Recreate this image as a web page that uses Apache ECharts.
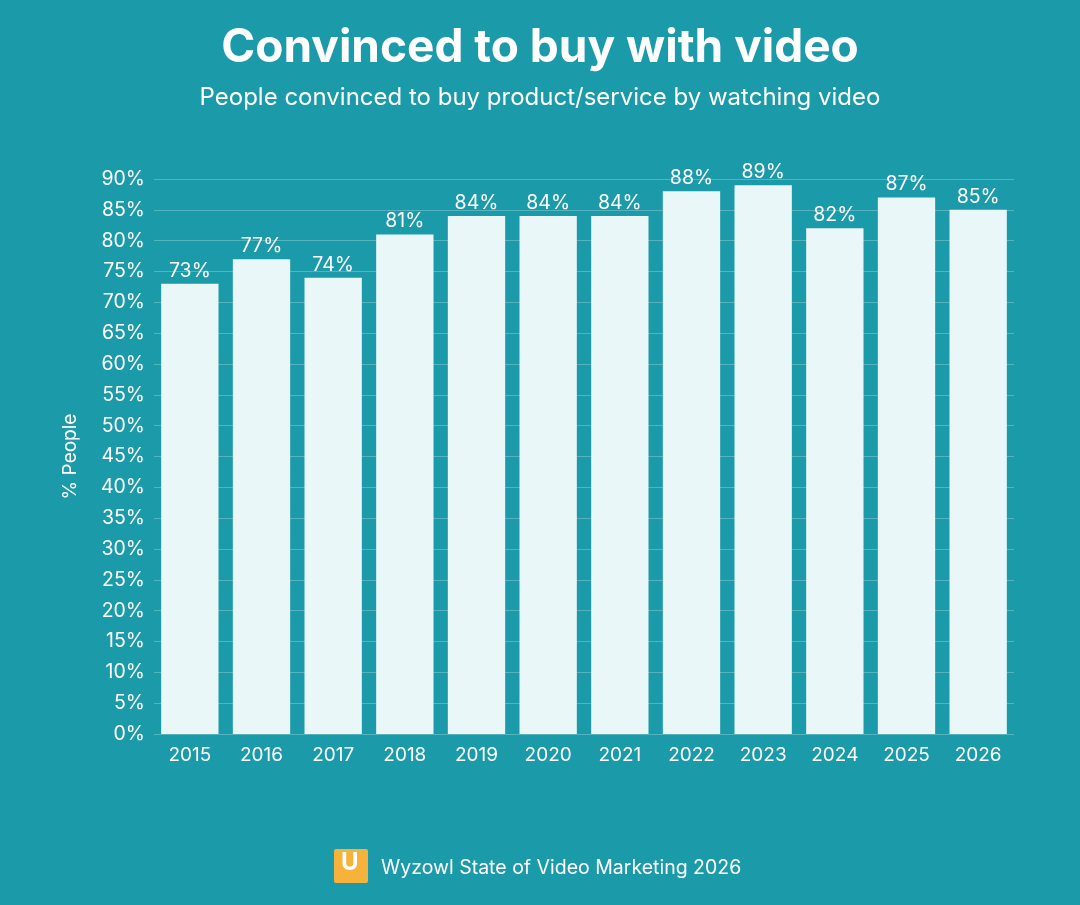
<!DOCTYPE html>
<html><head><meta charset="utf-8">
<script src="https://cdn.jsdelivr.net/npm/echarts@6/dist/echarts.min.js"></script>
<style>html,body{margin:0;background:#1b9aa9;}#c{width:1080px;height:905px;}</style>
</head><body><div id="c"></div>
<script>
const categories = ['2015','2016','2017','2018','2019','2020','2021','2022','2023','2024','2025','2026'];
const values = [73,77,74,81,84,84,84,88,89,82,87,85];
const chart = echarts.init(document.getElementById('c'));
chart.setOption({
  backgroundColor:'#1b9aa9',
  textStyle:{fontFamily:'Inter'},
  title:[
    {text:'Convinced to buy with video',left:'center',top:20,textStyle:{color:'#fff',fontSize:46,fontWeight:'bold',fontFamily:'Inter'}},
    {text:'People convinced to buy product/service by watching video',left:'center',top:81,textStyle:{color:'#fff',fontSize:24,fontWeight:'normal',fontFamily:'Inter'}},
    {text:'Wyzowl State of Video Marketing 2026',left:376,top:853,textStyle:{color:'#fff',fontSize:19.5,fontWeight:'normal',fontFamily:'Inter'}}
  ],
  graphic:[
    {type:'rect',left:334,top:849,shape:{width:34,height:34,r:2},style:{fill:'#f7b23b'}},
    {type:'text',left:341,top:851,style:{text:'U',fill:'#fff',font:'bold 24px Inter'}}
  ],
  grid:{left:154,right:66,top:179,bottom:171},
  xAxis:{type:'category',data:categories,axisLine:{show:false},axisTick:{show:false},
    axisLabel:{color:'#fff',fontSize:19,margin:12}},
  yAxis:{type:'value',min:0,max:90,interval:5,name:'% People',nameLocation:'middle',nameGap:74,
    nameTextStyle:{color:'#fff',fontSize:19},
    axisLabel:{color:'#fff',fontSize:19.5,formatter:'{value}%',margin:9},
    splitLine:{lineStyle:{color:'rgba(255,255,255,0.25)'}}},
  series:[{type:'bar',data:values,barWidth:'80%',itemStyle:{color:'#eaf7f8'},
    label:{show:true,position:'top',color:'#fff',fontSize:19.5,formatter:'{c}%',distance:3}}]
});
</script></body></html>
